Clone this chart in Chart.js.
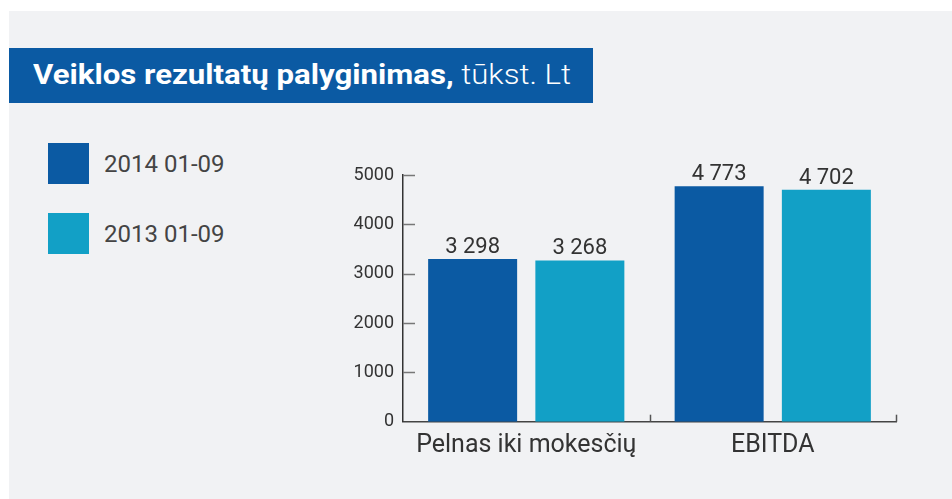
<!DOCTYPE html>
<html>
<head>
<meta charset="utf-8">
<script src="https://cdn.jsdelivr.net/npm/chart.js@4.4.1/dist/chart.umd.min.js"></script>
<style>
  html,body{margin:0;padding:0;background:#fff;width:952px;height:499px;overflow:hidden;font-family:Roboto,"DejaVu Sans",sans-serif;}
  #panel{position:absolute;left:9px;top:11px;right:0;bottom:0;background:#f1f2f4;}
  #title{position:absolute;left:9px;top:48px;width:584px;height:55px;background:#0b5aa3;color:#fff;}
  #titleText{position:absolute;left:24px;top:0;line-height:55px;font-size:27px;white-space:nowrap;transform-origin:0 50%;}
  #titleText b{font-weight:700;}
  #titleText span{font-weight:300;}
  .leg{position:absolute;left:48px;height:41px;display:flex;align-items:center;}
  .leg i{display:block;width:41px;height:41px;}
  .leg em{font-style:normal;font-size:24px;color:#444;margin-left:15px;}
  #wrap{position:absolute;left:0;top:0;width:952px;height:499px;}
</style>
</head>
<body>
<div id="panel"></div>
<div id="title"><div id="titleText"><b>Veiklos rezultatų palyginimas,</b><span> tūkst. Lt</span></div></div>
<div id="legend"></div>
<div id="wrap"><canvas id="c"></canvas></div>
<script>
const titleMain = "Veiklos rezultatų palyginimas,";
const titleUnit = " tūkst. Lt";
const categories = ["Pelnas iki mokesčių", "EBITDA"];
const seriesNames = ["2014 01-09", "2013 01-09"];
const values2014 = [3298, 4773];
const values2013 = [3268, 4702];
const yTicks = [0, 1000, 2000, 3000, 4000, 5000];
const colors = ["#0b5aa3", "#12a0c6"];

// title fit
const tt = document.getElementById('titleText');
const w = tt.getBoundingClientRect().width;
tt.style.transform = 'scaleX(' + (538 / w) + ')';

// legend
const legend = document.getElementById('legend');
seriesNames.forEach((n, i) => {
  const d = document.createElement('div');
  d.className = 'leg';
  d.style.top = (143 + i * 70) + 'px';
  d.innerHTML = '<i style="background:' + colors[i] + '"></i><em>' + n + '</em>';
  legend.appendChild(d);
});

function fmt(v) { return String(v).replace(/\B(?=(\d{3})+(?!\d))/g, ' '); }

const decor = {
  id: 'decor',
  afterDatasetsDraw(chart) {
    const ctx = chart.ctx;
    const y = chart.scales.y, x = chart.scales.x;
    ctx.save();
    // inward y ticks
    ctx.strokeStyle = '#777';
    ctx.lineWidth = 1.5;
    yTicks.forEach(t => {
      if (t === 0) return;
      const py = Math.round(y.getPixelForValue(t)) + 0.5;
      ctx.beginPath();
      ctx.moveTo(x.left, py);
      ctx.lineTo(x.left + 12, py);
      ctx.stroke();
    });
    // x category boundary ticks
    ctx.strokeStyle = '#555';
    const half = (x.getPixelForTick(1) - x.getPixelForTick(0)) / 2;
    categories.forEach((c, i) => {
      const px = Math.round(x.getPixelForTick(i) + half) + 0.5;
      ctx.beginPath();
      ctx.moveTo(px, y.bottom);
      ctx.lineTo(px, y.bottom - 7);
      ctx.stroke();
    });
    // value labels
    ctx.fillStyle = '#333';
    ctx.font = '22px Roboto';
    ctx.textAlign = 'center';
    ctx.textBaseline = 'alphabetic';
    chart.data.datasets.forEach((ds, di) => {
      chart.getDatasetMeta(di).data.forEach((bar, i) => {
        ctx.fillText(fmt(ds.data[i]), bar.x, bar.y - 6);
      });
    });
    ctx.restore();
  }
};

new Chart(document.getElementById('c'), {
  type: 'bar',
  data: {
    labels: categories,
    datasets: [
      { label: seriesNames[0], data: values2014, backgroundColor: colors[0] },
      { label: seriesNames[1], data: values2013, backgroundColor: colors[1] }
    ]
  },
  options: {
    responsive: true,
    maintainAspectRatio: false,
    animation: false,
    events: [],
    categoryPercentage: 0.87,
    barPercentage: 0.83,
    layout: { padding: { left: 301, right: 56, top: 175, bottom: 0 } },
    plugins: { legend: { display: false }, tooltip: { enabled: false } },
    scales: {
      x: {
        grid: { display: false, drawTicks: false },
        border: { display: true, color: '#444', width: 1.5 },
        ticks: { color: '#333', font: { size: 25, family: 'Roboto' }, padding: 9, maxRotation: 0 },
        afterFit(s) { s.height = 77.3; }
      },
      y: {
        min: 0, max: 5000,
        afterBuildTicks(s) { s.ticks = yTicks.map(v => ({ value: v })); },
        grid: { display: false, drawTicks: false },
        border: { display: true, color: '#333', width: 1.5 },
        ticks: { color: '#333', font: { size: 18, family: 'Roboto' }, padding: 9, callback: v => String(v) },
        afterFit(s) { s.width = 102; }
      }
    }
  },
  plugins: [decor]
});
</script>
</body>
</html>
